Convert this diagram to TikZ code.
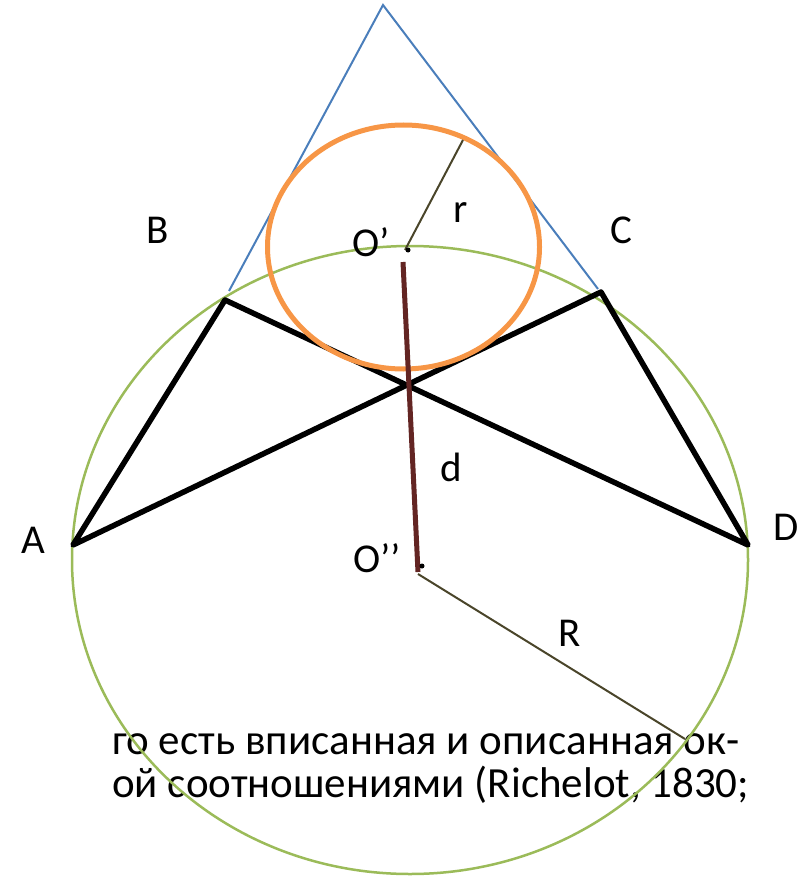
\documentclass[tikz,border=0pt]{standalone}
\usepackage{fontspec}
\setmainfont{Carlito}
\definecolor{triblue}{HTML}{4A7EBB}
\definecolor{outgreen}{HTML}{9BBB59}
\definecolor{inorange}{HTML}{F79646}
\definecolor{dbrown}{HTML}{632523}
\definecolor{radolive}{HTML}{4A452A}
\tikzset{
  lbl/.style={font=\fontsize{41}{48}\selectfont, inner sep=0pt},
  txt/.style={font=\fontsize{43}{50}\selectfont, inner sep=0pt, anchor=base west},
  side/.style={line width=5.5pt, line cap=round, line join=round},
  rad/.style={radolive, line width=2pt}
}
\begin{document}
\begin{tikzpicture}[x=1pt, y=-1pt]
  \useasboundingbox (0,0) rectangle (800,877);
  % text from the page behind
  \node[txt] (line1) at (112,754) {го есть вписанная и описанная ок-};
  \node[txt] (line2) at (112,797) {ой соотношениями (Richelot, 1830;};
  \coordinate (T) at (383,5);
  \coordinate (A) at (73,545);
  \coordinate (B) at (225,300);
  \coordinate (C) at (601,292);
  \coordinate (D) at (748,545);
  \coordinate (Bt) at (229,291);
  \coordinate (Ct) at (598,289);
  \coordinate (I) at (405,250);
  \coordinate (O) at (418,574);
  \coordinate (Ir) at (463,140);
  \coordinate (OR) at (685,739);
  % tangent triangle
  \draw[triblue, line width=2pt] (Bt) -- (T) -- (Ct);
  % circles
  \draw[outgreen, line width=2.5pt] (410,560) ellipse [x radius=338, y radius=314];
  \draw[side] (A) -- (B) -- (D) -- (C) -- cycle;
  \draw[inorange, line width=5pt] (403.5,247) ellipse [x radius=136, y radius=122];
  \draw[rad] (I) -- (Ir);
  \draw[rad] (O) -- (OR);
  \draw[dbrown, line width=5pt] (403,262) -- (418,572);
  \fill (408,250) circle (2.5);
  \fill (422,566) circle (2.5);
  % labels
  \node[lbl] (lA) at (33,540) {A};
  \node[lbl] (lB) at (158,230) {B};
  \node[lbl] (lC) at (621,230) {C};
  \node[lbl] (lD) at (786,527) {D};
  \node[lbl] (lI) at (371,242) {O’};
  \node[lbl] (lr) at (461,213) {r};
  \node[lbl] (ld) at (451,467) {d};
  \node[lbl] (lO) at (377,558) {O’’};
  \node[lbl] (lR) at (570,633) {R};
\end{tikzpicture}
\end{document}
